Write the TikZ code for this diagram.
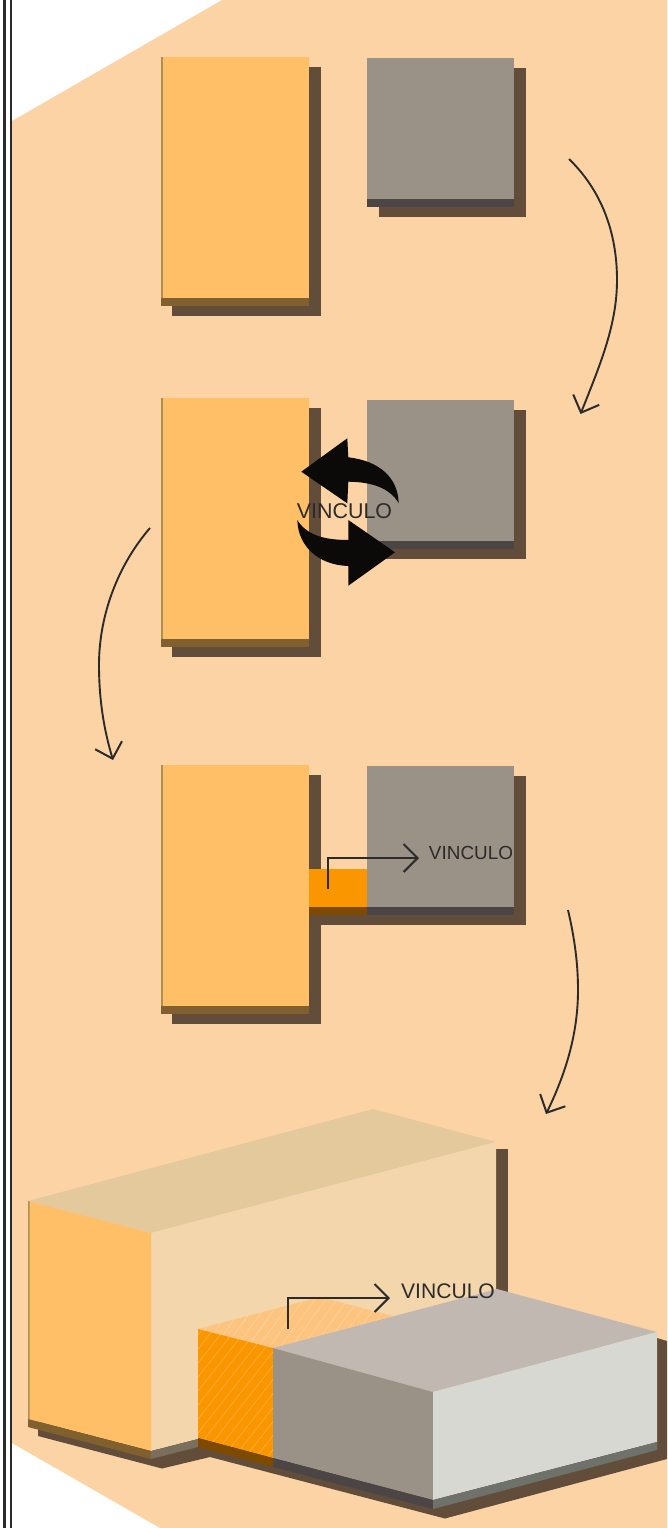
\documentclass[tikz,border=0pt]{standalone}
\usepackage{fontspec}
\setmainfont{Liberation Sans}
\usetikzlibrary{arrows.meta}
\definecolor{bgc}{HTML}{FCD3A4}
\definecolor{org}{HTML}{FFBF66}
\definecolor{orgband}{HTML}{80602F}
\definecolor{orgedge}{HTML}{B08F55}
\definecolor{shad}{HTML}{624D3B}
\definecolor{gry}{HTML}{9A9287}
\definecolor{gryband}{HTML}{4B4645}
\definecolor{grytop}{HTML}{C1B8B1}
\definecolor{gryright}{HTML}{D7D8D2}
\definecolor{gryrband}{HTML}{6F716B}
\definecolor{bigtop}{HTML}{E4C99D}
\definecolor{bigfront}{HTML}{F3D6AC}
\definecolor{link}{HTML}{FA9600}
\definecolor{linkband}{HTML}{7D4A00}
\definecolor{linktop}{HTML}{FCC47E}
\definecolor{ink}{HTML}{2B2B2B}
\definecolor{midband}{HTML}{7A6E5C}
\tikzset{
  flow/.style={draw=ink,line width=1.9pt,-{Straight Barb[length=14pt,width=28pt,line width=2pt]}},
  label/.style={text=ink,inner sep=0pt,anchor=center},
  frameline/.style={draw=ink,line width=2.4pt},
}
\newcommand{\blockpair}[2]{%
  \fill[shad] (172,#1+10) rectangle (321,#1+259);
  \fill[shad] (379,#2+10) rectangle (526,#2+159);
  \fill[org] (161,#1) rectangle (309,#1+241);
  \fill[orgedge] (161,#1) rectangle (162.6,#1+241);
  \fill[orgband] (161,#1+241) rectangle (309,#1+249);
  \fill[gry] (367,#2) rectangle (514,#2+141);
  \fill[gryband] (367,#2+141) rectangle (514,#2+149);
}
\begin{document}
\begin{tikzpicture}[x=1pt,y=-1pt]
\useasboundingbox (0,0) rectangle (667,1528);
\fill[white] (0,0) rectangle (667,1528);
\fill[bgc] (12,121) -- (222,0) -- (667,0) -- (667,1528) -- (160,1528) -- (12,1443) -- cycle;
\draw[frameline] (4.4,0) -- (4.4,1528);
\draw[frameline,line width=2pt] (11.2,0) -- (11.2,1528);

% rows 1 to 3
\blockpair{57}{58}
\blockpair{398}{400}
\fill[shad] (309,880) rectangle (321,925);
\fill[shad] (309,915) rectangle (379,925);
\blockpair{765}{766}
\fill[link] (309,869) rectangle (367,907);
\fill[linkband] (309,907) rectangle (367,915);

% black swap arrows
\fill[black!95!bgc] (301.3,471.7) -- (347.3,438.3) -- (348.3,457.3)
  .. controls (380,461) and (398,478) .. (398.7,503.3)
  .. controls (390,488) and (372,482) .. (348.3,481.7)
  -- (347.3,503.3) -- cycle;
\fill[black!95!bgc] (395,552.3) -- (348.3,520) -- (348.3,540)
  .. controls (322,540) and (306,534) .. (297.3,520)
  .. controls (298,546) and (318,565) .. (348.3,566)
  -- (348.3,585.7) -- cycle;

% labels on rows 2 and 3
\node[label,font=\fontsize{21.4}{24}\selectfont] (v1) at (344.5,511.5) {VINCULO};
\node[label,font=\fontsize{18.9}{22}\selectfont] (v2) at (471,852.5) {VINCULO};

% connector row 3
\coordinate (b0) at (328,889);
\coordinate (b1) at (328,858);
\coordinate (b2) at (419,858);
\draw[flow] (b0) -- (b1) -- (b2);

% flow arrows
\coordinate (f1a) at (569,159);
\coordinate (f1b) at (580.5,414);
\draw[flow] (f1a) .. controls (606,195) and (617,240) .. (617,280) .. controls (617,325) and (600,365) .. (f1b);
\coordinate (f2a) at (150,528);
\coordinate (f2b) at (113,760);
\draw[flow] (f2a) .. controls (118,565) and (99,615) .. (99,665) .. controls (99,700) and (104,730) .. (f2b);
\coordinate (f3a) at (568,910);
\coordinate (f3b) at (546,1114);
\draw[flow] (f3a) .. controls (575,940) and (578,965) .. (578,990) .. controls (578,1035) and (565,1075) .. (f3b);

% row 4: shadow
\fill[shad] (496,1149) -- (508,1149) -- (508,1295) -- (496,1295) -- cycle;
\fill[shad] (657,1338) -- (667,1341) -- (667,1459) -- (445,1518.5) -- (210,1457) -- (162,1468.5) -- (38,1436) -- (38,1420) -- (657,1420) -- cycle;

% large block
\fill[bigtop] (28,1201) -- (373,1109) -- (496,1142) -- (151,1233) -- cycle;
\fill[bigfront] (151,1233) -- (496,1142) -- (496,1300) -- (198,1420) -- (198,1439) -- (151,1451) -- cycle;
\fill[org] (28,1201) -- (151,1233) -- (151,1451) -- (28,1419) -- cycle;
\fill[orgedge] (28,1201) -- (29.6,1201.4) -- (29.6,1419.4) -- (28,1419) -- cycle;
\fill[orgband] (28,1419) -- (151,1451) -- (151,1459) -- (28,1427) -- cycle;
\fill[midband] (151,1451) -- (198,1439) -- (198,1447) -- (151,1459) -- cycle;

% link block
\fill[linktop] (198,1329) -- (273,1348) -- (393,1316) -- (320,1297) -- cycle;
\begin{scope}
  \clip (198,1329) -- (273,1348) -- (393,1316) -- (320,1297) -- cycle;
  \foreach \k in {0,11,...,220} \draw[white,opacity=.3,line width=.5pt] (190+\k,1350) -- (230+\k,1295);
\end{scope}
\fill[link] (198,1329) -- (273,1348) -- (273,1458) -- (198,1438) -- cycle;
\begin{scope}
  \clip (198,1329) -- (273,1348) -- (273,1458) -- (198,1438) -- cycle;
  \foreach \k in {-120,-109,...,90} \draw[white,opacity=.3,line width=.5pt] (190+\k,1470) -- (300+\k,1330);
\end{scope}
\fill[linkband] (198,1438) -- (273,1458) -- (273,1467) -- (198,1447) -- cycle;

% grey block
\fill[grytop] (273,1348) -- (497,1289) -- (657,1332) -- (433,1392) -- cycle;
\fill[gry] (273,1348) -- (433,1392) -- (433,1500) -- (273,1458) -- cycle;
\fill[gryband] (273,1458) -- (433,1500) -- (433,1509) -- (273,1467) -- cycle;
\fill[gryright] (433,1392) -- (657,1332) -- (657,1442) -- (433,1500) -- cycle;
\fill[gryrband] (433,1500) -- (657,1442) -- (657,1450) -- (433,1509) -- cycle;

% connector and label row 4
\coordinate (c0) at (288,1329);
\coordinate (c1) at (288,1298);
\coordinate (c2) at (390,1298);
\draw[flow] (c0) -- (c1) -- (c2);
\node[label,font=\fontsize{21.1}{24}\selectfont] (v3) at (448,1291.5) {VINCULO};
\end{tikzpicture}
\end{document}
